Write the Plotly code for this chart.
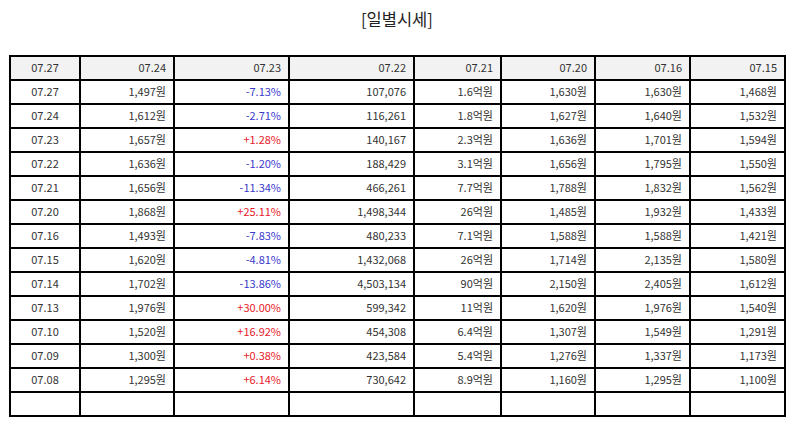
import plotly.graph_objects as go

header = ["07.27", "07.24", "07.23", "07.22", "07.21", "07.20", "07.16", "07.15"]

dates = ["07.27", "07.24", "07.23", "07.22", "07.21", "07.20", "07.16",
         "07.15", "07.14", "07.13", "07.10", "07.09", "07.08"]
close = [1497, 1612, 1657, 1636, 1656, 1868, 1493, 1620, 1702, 1976, 1520, 1300, 1295]
change = [-7.13, -2.71, 1.28, -1.20, -11.34, 25.11, -7.83, -4.81, -13.86, 30.00, 16.92, 0.38, 6.14]
volume = [107076, 116261, 140167, 188429, 466261, 1498344, 480233,
          1432068, 4503134, 599342, 454308, 423584, 730642]
amount = ["1.6", "1.8", "2.3", "3.1", "7.7", "26", "7.1", "26", "90", "11", "6.4", "5.4", "8.9"]
open_ = [1630, 1627, 1636, 1656, 1788, 1485, 1588, 1714, 2150, 1620, 1307, 1276, 1160]
high = [1630, 1640, 1701, 1795, 1832, 1932, 1588, 2135, 2405, 1976, 1549, 1337, 1295]
low = [1468, 1532, 1594, 1550, 1562, 1433, 1421, 1580, 1612, 1540, 1291, 1173, 1100]

TEXT = "#333333"
UP = "#e8202a"
DOWN = "#3a3acc"
FONT = "Noto Sans CJK KR"

# page body has an 8px margin, so the figure is a bit smaller than the window
W, H = 778, 409
TOP = 48


def won(v):
    return [f"{x:,}원" for x in v]


columns = [
    dates,
    won(close),
    [f"{c:+.2f}%" for c in change],
    [f"{x:,}" for x in volume],
    [f"{a}억원" for a in amount],
    won(open_),
    won(high),
    won(low),
]
# trailing empty row
columns = [c + [""] for c in columns]

colors = [[TEXT] * len(columns[0]) for _ in columns]
colors[2] = [UP if c > 0 else DOWN for c in change] + [TEXT]

align = ["center"] + ["right"] * 7
widths = [70, 94, 115, 125, 87, 94, 95, 95]

fig = go.Figure(go.Table(
    columnwidth=widths,
    domain=dict(x=[2 / W, 777 / W], y=[0, 1]),
    header=dict(
        values=header,
        align=align,
        fill_color="#f2f2f2",
        line=dict(color="black", width=1.2),
        font=dict(family=FONT, size=11, color=TEXT),
        height=24,
    ),
    cells=dict(
        values=columns,
        align=align,
        fill_color="white",
        line=dict(color="black", width=1.2),
        font=dict(family=FONT, size=11, color=colors),
        height=24,
    ),
))

fig.add_annotation(
    text="[일별시세]", showarrow=False,
    xref="paper", yref="paper", x=0.5, xanchor="center",
    y=1, yshift=TOP - 11, yanchor="middle",
    font=dict(family=FONT, size=16.5, color="#222222"),
)

fig.update_layout(
    width=W,
    height=H,
    margin=dict(l=0, r=0, t=TOP, b=0),
    paper_bgcolor="white",
)

fig.write_html("out.html")
